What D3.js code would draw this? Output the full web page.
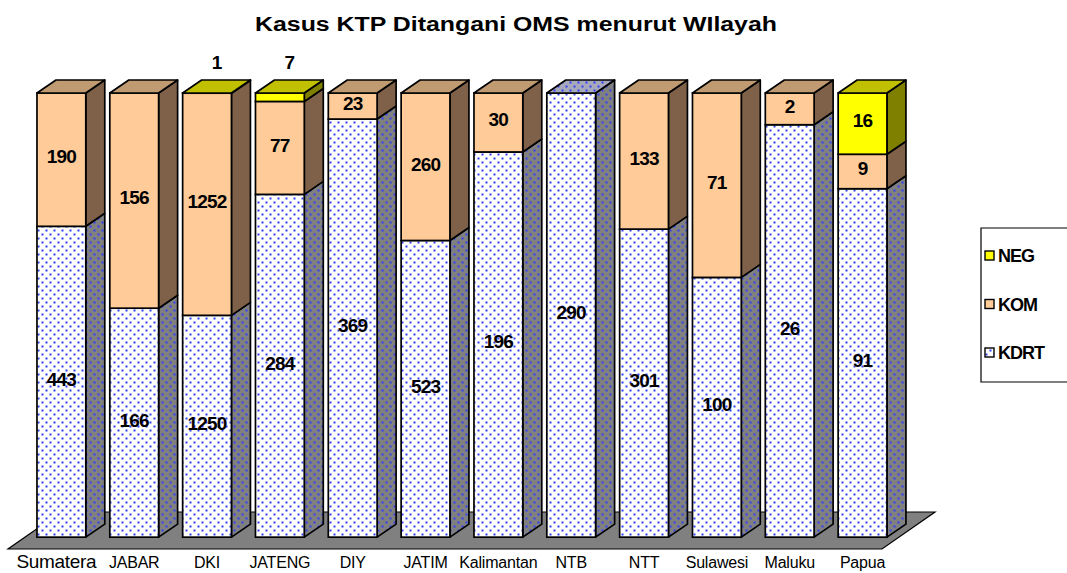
<!DOCTYPE html>
<html><head><meta charset="utf-8">
<script src="https://cdn.jsdelivr.net/npm/d3@7"></script>
<style>body{margin:0;background:#fff}svg{display:block;font-family:"Liberation Sans",Arial,sans-serif}</style>
</head><body><svg id="c" width="1067" height="573"></svg>
<script>
const categories = ["Sumatera","JABAR","DKI","JATENG","DIY","JATIM","Kalimantan","NTB","NTT","Sulawesi","Maluku","Papua"];
const kdrt = [443,166,1250,284,369,523,196,290,301,100,26,91];
const kom  = [190,156,1252,77,23,260,30,0,133,71,2,9];
const neg  = [0,0,1,7,0,0,0,0,0,0,0,16];
const seriesNames = ["KDRT","KOM","NEG"];
const legendOrder = ["NEG","KOM","KDRT"];
const titleText = "Kasus KTP Ditangani OMS menurut WIlayah";

const svg = d3.select("#c");
const defs = svg.append("defs");
function dotPattern(id, bg){
  const p = defs.append("pattern").attr("id",id).attr("patternUnits","userSpaceOnUse").attr("width",8).attr("height",8);
  p.append("rect").attr("width",8).attr("height",8).attr("fill",bg);
  p.append("rect").attr("x",1.5).attr("y",1.5).attr("width",2).attr("height",2).attr("fill","#2f3ff5");
  p.append("rect").attr("x",5.5).attr("y",5.5).attr("width",2).attr("height",2).attr("fill","#2f3ff5");
}
dotPattern("pf","#ffffff");
dotPattern("ps","#808080");
dotPattern("pt","#a8a8bc");

const styles = {
  KDRT:{front:"url(#pf)", side:"url(#ps)", top:"url(#pt)"},
  KOM:{front:"#ffcc99", side:"#7f6149", top:"#c09a70"},
  NEG:{front:"#ffff00", side:"#808000", top:"#c0c000"}
};

// geometry
const floorL = 8, floorR = 882, floorY = 549;
const fdx = 53, fdy = -37;        // floor depth vector
const off = 0.32;                 // bar front position within depth
const bdx = 19, bdy = -13;        // bar depth
const ox = fdx*off, oy = fdy*off;

const x = d3.scaleBand().domain(categories).range([floorL, floorR]).paddingInner(0.33).paddingOuter(0.165);
const y = d3.scaleLinear().domain([0,1]).range([floorY+oy, 93]);

const rows = categories.map((c,i)=>({cat:c, KDRT:kdrt[i], KOM:kom[i], NEG:neg[i]}));
const stack = d3.stack().keys(seriesNames).offset(d3.stackOffsetExpand)(rows);

// title
svg.append("text").attr("x",516).attr("y",31).attr("text-anchor","middle")
  .attr("font-size",19.5).attr("font-weight","bold").attr("textLength",522).attr("lengthAdjust","spacingAndGlyphs")
  .text(titleText);

// floor
svg.append("path").attr("fill","#808080").attr("stroke","#000").attr("stroke-width",1.2)
  .attr("d",`M${floorL},${floorY}L${floorR},${floorY}L${floorR+fdx},${floorY+fdy}L${floorL+fdx},${floorY+fdy}Z`);

const g = svg.append("g");
const sw = 1.7;
categories.forEach((c,i)=>{
  const x0 = x(c)+ox, x1 = x0 + x.bandwidth();
  const segs = stack.map(s=>({key:s.key, y0:s[i][0], y1:s[i][1], v:rows[i][s.key]})).filter(d=>d.v>0);
  const bg = g.append("g");
  segs.forEach(d=>{
    const ya = y(d.y0), yb = y(d.y1);
    const st = styles[d.key];
    bg.append("path").attr("fill",st.side).attr("stroke","#000").attr("stroke-width",sw).attr("stroke-linejoin","round")
      .attr("d",`M${x1},${ya}L${x1+bdx},${ya+bdy}L${x1+bdx},${yb+bdy}L${x1},${yb}Z`);
    bg.append("rect").attr("x",x0).attr("y",yb).attr("width",x1-x0).attr("height",Math.max(0,ya-yb))
      .attr("fill",st.front).attr("stroke","#000").attr("stroke-width",sw);
  });
  const top = segs[segs.length-1];
  const yt = y(1);
  bg.append("path").attr("fill",styles[top.key].top).attr("stroke","#000").attr("stroke-width",sw).attr("stroke-linejoin","round")
    .attr("d",`M${x0},${yt}L${x1},${yt}L${x1+bdx},${yt+bdy}L${x0+bdx},${yt+bdy}Z`);
  // labels
  segs.forEach(d=>{
    const ya = y(d.y0), yb = y(d.y1);
    let lx = (x0+x1)/2, ly = (ya+yb)/2 - 3;
    if (ya-yb < 20) { lx = (x0+x1)/2 + bdx/2; ly = yt + bdy - 18; }
    bg.append("text").attr("x",lx).attr("y",ly).attr("dy","0.36em").attr("text-anchor","middle")
      .attr("font-size",19).attr("font-weight","bold").attr("letter-spacing","-0.8").text(d.v);
  });
  // category label
  const big = i===0;
  svg.append("text").attr("x",(x0+x1)/2 - (big?5:0)).attr("y",big?568:568).attr("text-anchor","middle")
    .attr("font-size",big?19:16).attr("letter-spacing",big?"-0.3":"-0.2").text(c);
});

// legend
const lg = svg.append("g");
lg.append("path").attr("fill","none").attr("stroke","#000").attr("stroke-width",1.2)
  .attr("d","M1068,228L981,228L981,382L1068,382");
legendOrder.forEach((k,j)=>{
  const cy = 256 + j*48.5;
  lg.append("rect").attr("x",985).attr("y",cy-5).attr("width",9).attr("height",9)
    .attr("fill",styles[k].front).attr("stroke","#000").attr("stroke-width",1.4);
  lg.append("text").attr("x",998).attr("y",cy).attr("dy","0.36em").attr("font-size",18).attr("font-weight","bold")
    .attr("letter-spacing","-1").text(k);
});
</script></body></html>
